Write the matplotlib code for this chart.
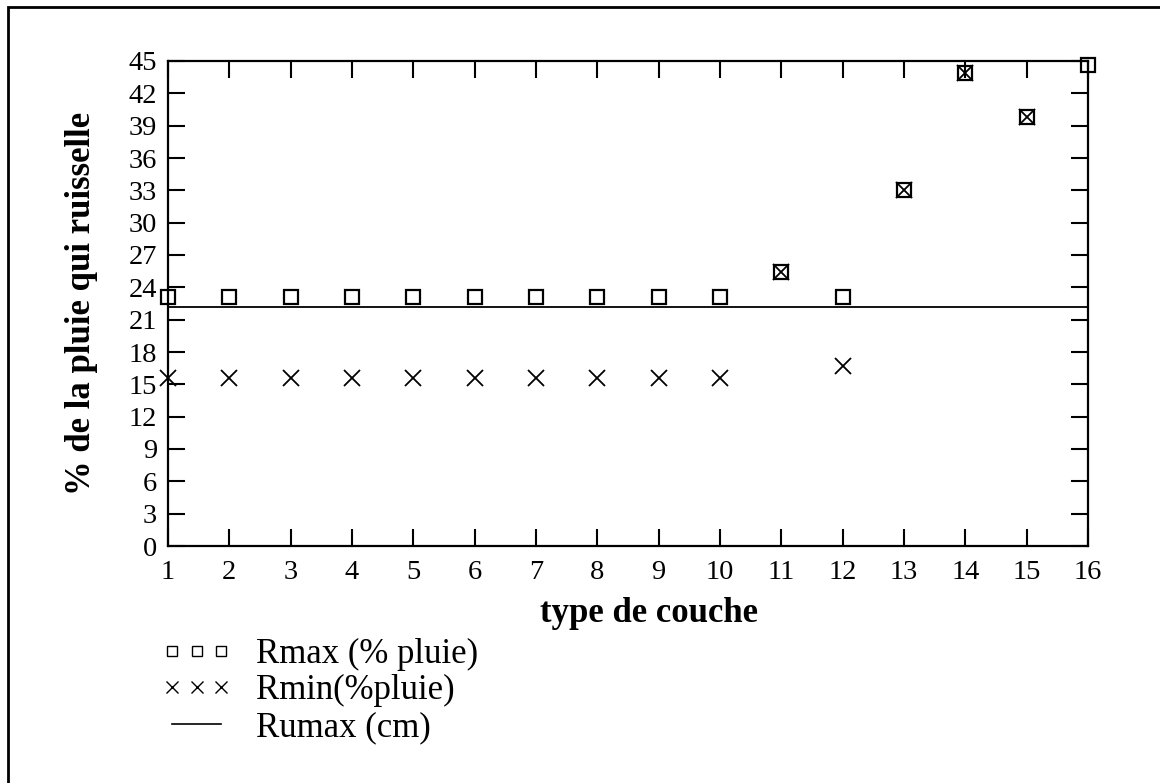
import matplotlib
matplotlib.use("Agg")
import matplotlib.pyplot as plt
from matplotlib.lines import Line2D
from matplotlib.patches import Rectangle
import numpy as np

couches = list(range(1, 17))
rmax = [23.1, 23.1, 23.1, 23.1, 23.1, 23.1, 23.1, 23.1, 23.1, 23.1,
        25.4, 23.1, 33.0, 43.9, 39.8, 44.6]
rmin = [15.6, 15.6, 15.6, 15.6, 15.6, 15.6, 15.6, 15.6, 15.6, 15.6,
        25.4, 16.7, 33.0, 43.9, 39.8, np.nan]
rumax = [22.2] * 16
yticks = list(range(0, 46, 3))

plt.rcParams['font.family'] = ['Liberation Serif', 'DejaVu Serif']

fig = plt.figure(figsize=(11.6, 7.83), dpi=100)
ax = fig.add_axes([168 / 1160, 1 - 546 / 783, 920 / 1160, 485 / 783])

ax.plot(couches, rumax, color='black', lw=1.3, clip_on=False)
ax.plot(couches, rmax, ls='none', marker='s', ms=10, mfc='none',
        mec='black', mew=1.6, clip_on=False)
ax.plot(couches, rmin, ls='none', marker='x', ms=11, mec='black',
        mew=1.3, clip_on=False)

ax.set_xlim(1, 16)
ax.set_ylim(0, 45)
ax.set_xticks(couches)
ax.set_yticks(yticks)
ax.tick_params(direction='in', length=12, width=1.5, labelsize=20.5,
               top=True, right=True)
ax.tick_params(axis='y', pad=8)
ax.tick_params(axis='x', pad=10)
for s in ax.spines.values():
    s.set_linewidth(1.6)

ax.set_xlabel('type de couche', fontsize=25, fontweight='bold', labelpad=9)
ax.xaxis.label.set_x(0.523)
ax.set_ylabel('% de la pluie qui ruisselle', fontsize=25, fontweight='bold',
              labelpad=22)

handles = [
    Line2D([], [], ls='none', marker='s', ms=7, mfc='none', mec='black', mew=1.0),
    Line2D([], [], ls='none', marker='x', ms=8, mec='black', mew=1.0),
    Line2D([], [], color='black', lw=1.2),
]
labels = ['Rmax (% pluie)', 'Rmin(%pluie)', 'Rumax (cm)']
fig.legend(handles, labels, loc='upper left',
           bbox_to_anchor=(148 / 1160, 1 - 624 / 783),
           frameon=False, numpoints=3, fontsize=25, handlelength=2.0,
           handletextpad=0.7, labelspacing=0.1, borderaxespad=0)

fig.patches.append(Rectangle((8 / 1160, -0.1), 1.2, (1 - 7 / 783) + 0.1,
                             transform=fig.transFigure, fill=False,
                             ec='black', lw=2.0))

fig.savefig('out.png', dpi=100)
